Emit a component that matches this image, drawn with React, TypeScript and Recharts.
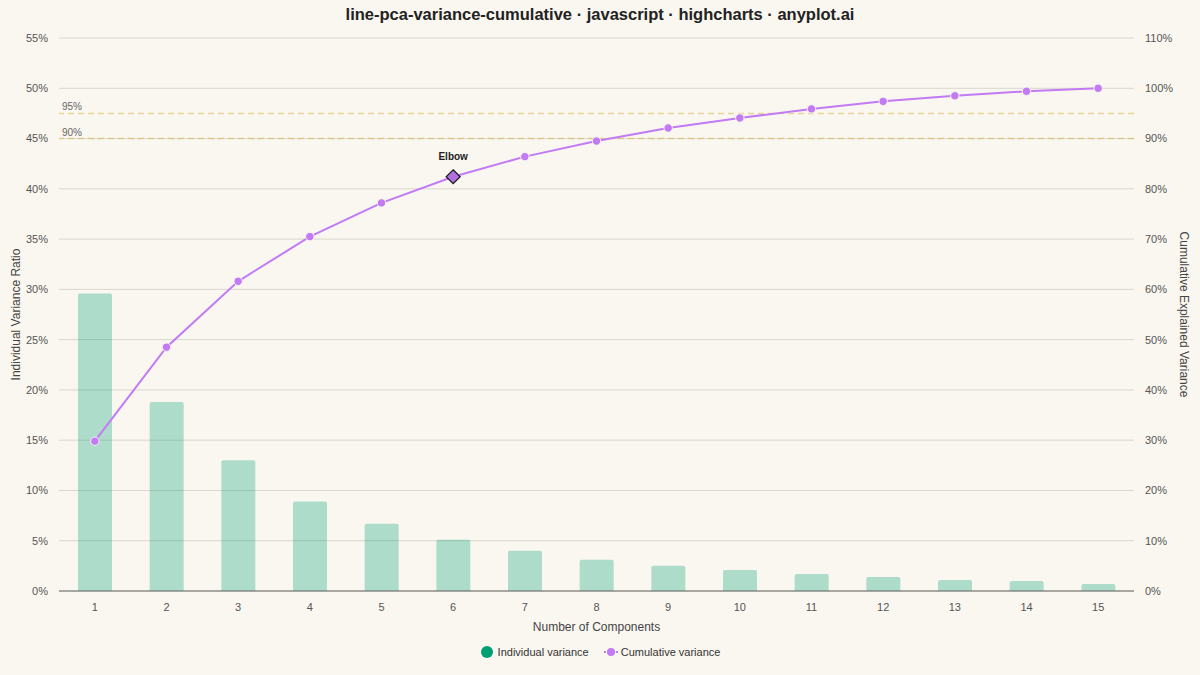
import React from 'react';
import {
  ComposedChart,
  Bar,
  Line,
  XAxis,
  YAxis,
  CartesianGrid,
  ReferenceLine,
  Legend,
} from 'recharts';

const components = ['1', '2', '3', '4', '5', '6', '7', '8', '9', '10', '11', '12', '13', '14', '15'];
const individualVariance = [29.6, 18.8, 13.0, 8.9, 6.7, 5.1, 4.0, 3.1, 2.5, 2.1, 1.7, 1.4, 1.1, 1.0, 0.7];
const cumulativeVariance = [29.8, 48.5, 61.6, 70.5, 77.2, 82.4, 86.4, 89.5, 92.1, 94.1, 95.9, 97.4, 98.5, 99.4, 100];
const leftTicks = [0, 5, 10, 15, 20, 25, 30, 35, 40, 45, 50, 55];
const rightTicks = [0, 10, 20, 30, 40, 50, 60, 70, 80, 90, 100, 110];
const thresholds = [95, 90];
const elbowIndex = 5;

const data = components.map((c, i) => ({
  component: c,
  individual: individualVariance[i],
  cumulative: cumulativeVariance[i],
}));

const BG = '#faf7f0';
const GREEN = '#009E73';
const PURPLE = '#c27af5';
const TICK = { fontSize: 11, fill: '#555' };

function CumulativeDot(props: any) {
  const { cx, cy, index } = props;
  if (cx == null || cy == null) return <g key={`d-${index}`} />;
  if (index === elbowIndex) {
    const s = 7;
    return (
      <g key={`d-${index}`}>
        <path
          d={`M${cx},${cy - s} L${cx + s},${cy} L${cx},${cy + s} L${cx - s},${cy} Z`}
          fill="#b070e0"
          stroke="#1a1a1a"
          strokeWidth={1.2}
        />
        <text x={cx} y={cy - 17} textAnchor="middle" fontSize={10} fontWeight="bold" fill="#222">
          Elbow
        </text>
      </g>
    );
  }
  return <circle key={`d-${index}`} cx={cx} cy={cy} r={4.2} fill={PURPLE} stroke={BG} strokeWidth={1} />;
}

function LeftTitle(props: any) {
  const { viewBox } = props;
  const y = viewBox.y + viewBox.height / 2;
  return (
    <text x={16} y={y} transform={`rotate(-90, 16, ${y})`} textAnchor="middle" dominantBaseline="central" fontSize={12} fill="#444">
      Individual Variance Ratio
    </text>
  );
}

function RightTitle(props: any) {
  const { viewBox } = props;
  const y = viewBox.y + viewBox.height / 2;
  return (
    <text x={1184} y={y} transform={`rotate(90, 1184, ${y})`} textAnchor="middle" dominantBaseline="central" fontSize={12} fill="#444">
      Cumulative Explained Variance
    </text>
  );
}

function LegendContent() {
  return (
    <div style={{ display: 'flex', justifyContent: 'center', alignItems: 'center', height: 30, fontSize: 11, color: '#333' }}>
      <svg width={14} height={14} style={{ marginRight: 4 }}>
        <circle cx={7} cy={7} r={6} fill={GREEN} />
      </svg>
      <span style={{ marginRight: 15 }}>Individual variance</span>
      <svg width={14} height={14} style={{ marginRight: 3 }}>
        <line x1={0} y1={7} x2={14} y2={7} stroke={PURPLE} strokeWidth={2} strokeDasharray="2 2" />
        <circle cx={7} cy={7} r={4} fill={PURPLE} />
      </svg>
      <span>Cumulative variance</span>
    </div>
  );
}

export default function App() {
  return (
    <div
      style={{
        position: 'absolute',
        left: 0,
        top: 0,
        width: 1200,
        height: 675,
        background: BG,
        fontFamily: '"Liberation Sans", Arial, sans-serif',
      }}
    >
      <div
        style={{
          position: 'absolute',
          top: 5,
          left: 0,
          width: 1200,
          textAlign: 'center',
          fontSize: 16.5,
          fontWeight: 'bold',
          color: '#222',
        }}
      >
        line-pca-variance-cumulative · javascript · highcharts · anyplot.ai
      </div>
      <ComposedChart width={1200} height={675} data={data} margin={{ top: 38, right: 0, left: 0, bottom: 8 }}>
        <CartesianGrid yAxisId="left" vertical={false} stroke="#d9d6cc" />
        <XAxis
          dataKey="component"
          height={46}
          tickLine={false}
          tickSize={0}
          tickMargin={12}
          tick={TICK}
          axisLine={{ stroke: '#666' }}
          label={{ value: 'Number of Components', position: 'insideBottom', offset: 6, fontSize: 12, fill: '#444' }}
        />
        <YAxis
          yAxisId="left"
          width={59}
          domain={[0, 55]}
          ticks={leftTicks}
          tickFormatter={(v: number) => `${v}%`}
          tick={TICK}
          tickLine={false}
          axisLine={false}
          tickSize={0}
          tickMargin={11}
          label={<LeftTitle />}
        />
        <YAxis
          yAxisId="right"
          orientation="right"
          width={66}
          domain={[0, 110]}
          ticks={rightTicks}
          tickFormatter={(v: number) => `${v}%`}
          tick={TICK}
          tickLine={false}
          axisLine={false}
          tickSize={0}
          tickMargin={11}
          label={<RightTitle />}
        />
        {thresholds.map((t) => (
          <ReferenceLine
            key={t}
            yAxisId="right"
            y={t}
            stroke="#d9b84a"
            strokeOpacity={0.55}
            strokeWidth={1.5}
            strokeDasharray="6 4"
            label={{ value: `${t}%`, position: 'insideBottomLeft', offset: 3, fontSize: 10, fill: '#666' }}
          />
        ))}
        <Bar
          yAxisId="left"
          dataKey="individual"
          name="Individual variance"
          barSize={34}
          fill={GREEN}
          fillOpacity={0.3}
          radius={[2, 2, 0, 0]}
          isAnimationActive={false}
        />
        <Line
          yAxisId="right"
          type="linear"
          dataKey="cumulative"
          name="Cumulative variance"
          stroke={PURPLE}
          strokeWidth={2}
          dot={CumulativeDot}
          activeDot={false}
          isAnimationActive={false}
        />
        <Legend verticalAlign="bottom" height={30} content={<LegendContent />} />
      </ComposedChart>
    </div>
  );
}
